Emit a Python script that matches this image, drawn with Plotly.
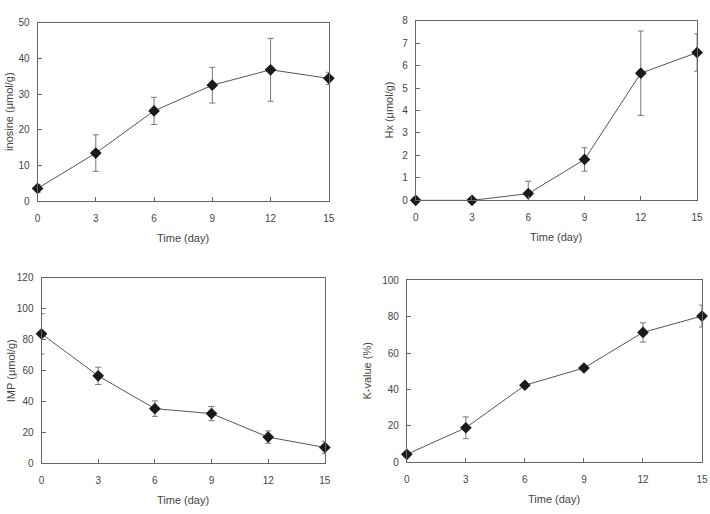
import plotly.graph_objects as go

days = [0, 3, 6, 9, 12, 15]
day_ticks = [0, 3, 6, 9, 12, 15]

inosine_mean = [3.6, 13.5, 25.3, 32.5, 36.8, 34.4]
inosine_sd = [1.1, 5.1, 3.8, 5.0, 8.8, 1.7]

hx_mean = [0.0, 0.0, 0.3, 1.82, 5.66, 6.58]
hx_sd = [0.0, 0.0, 0.55, 0.52, 1.88, 0.83]

imp_mean = [83.6, 56.4, 35.2, 32.0, 16.8, 10.1]
imp_sd = [13.0, 5.6, 5.0, 4.6, 4.0, 4.0]

kval_mean = [4.3, 18.9, 42.3, 51.8, 71.4, 80.4]
kval_sd = [0.8, 6.0, 1.0, 1.0, 5.3, 6.0]

panels = [
    ("inosine", inosine_mean, inosine_sd, [0, 50], 10, "inosine (μmol/g)", (35, 330, 17, 200), 6),
    ("Hx", hx_mean, hx_sd, [0, 8], 1, "Hx (μmol/g)", (418, 703, 15, 199), 390),
    ("IMP", imp_mean, imp_sd, [0, 120], 20, "IMP (μmol/g)", (39, 326, 278, 468), 8),
    ("K-value", kval_mean, kval_sd, [0, 100], 20, "K-value (%)", (409, 708, 281, 467), 369),
]

W, H = 710, 514
FONT = "Liberation Sans, Arial, sans-serif"
TXT = "#444444"
AX = "#666666"

fig = go.Figure()
annotations = []
layout_axes = {}

for i, (name, mean, sd, yr, dt, ytitle, (x0, x1, y0, y1), ytx) in enumerate(panels, start=1):
    xa = "x" if i == 1 else f"x{i}"
    ya = "y" if i == 1 else f"y{i}"
    fig.add_trace(go.Scatter(
        x=days, y=mean, mode="lines+markers", name=name,
        xaxis=xa, yaxis=ya, cliponaxis=False,
        line=dict(color="#555555", width=1),
        marker=dict(symbol="diamond", size=9, color="#1a1a1a"),
        error_y=dict(type="data", array=sd, visible=True, color="#777777", thickness=1, width=3),
        showlegend=False,
    ))
    xdom = [x0 / W, x1 / W]
    ydom = [1 - y1 / H, 1 - y0 / H]
    common = dict(showline=True, linecolor=AX, linewidth=1, mirror=True,
                  ticks="inside", ticklen=4, tickcolor=AX, showgrid=False, zeroline=False,
                  tickfont=dict(family=FONT, size=10, color=TXT))
    layout_axes["xaxis" if i == 1 else f"xaxis{i}"] = dict(
        domain=xdom, range=[0, 15], tickvals=day_ticks, anchor=ya,
        ticklabelstandoff=8, **common)
    layout_axes["yaxis" if i == 1 else f"yaxis{i}"] = dict(
        domain=ydom, range=yr, dtick=dt, anchor=xa, ticklabelstandoff=5, **common)
    annotations.append(dict(
        text="Time (day)", xref="paper", yref="paper",
        x=(x0 + x1) / 2 / W, y=1 - (y1 + 38) / H, showarrow=False,
        xanchor="center", yanchor="middle",
        font=dict(family=FONT, size=11, color=TXT)))
    annotations.append(dict(
        text=ytitle, xref="paper", yref="paper",
        x=ytx / W, y=1 - (y0 + y1) / 2 / H, showarrow=False, textangle=-90,
        xanchor="center", yanchor="middle",
        font=dict(family=FONT, size=11, color=TXT)))

fig.update_layout(
    width=W, height=H,
    margin=dict(l=0, r=0, t=0, b=0),
    paper_bgcolor="white", plot_bgcolor="white",
    annotations=annotations,
    **layout_axes,
)

fig.write_html("out.html")
